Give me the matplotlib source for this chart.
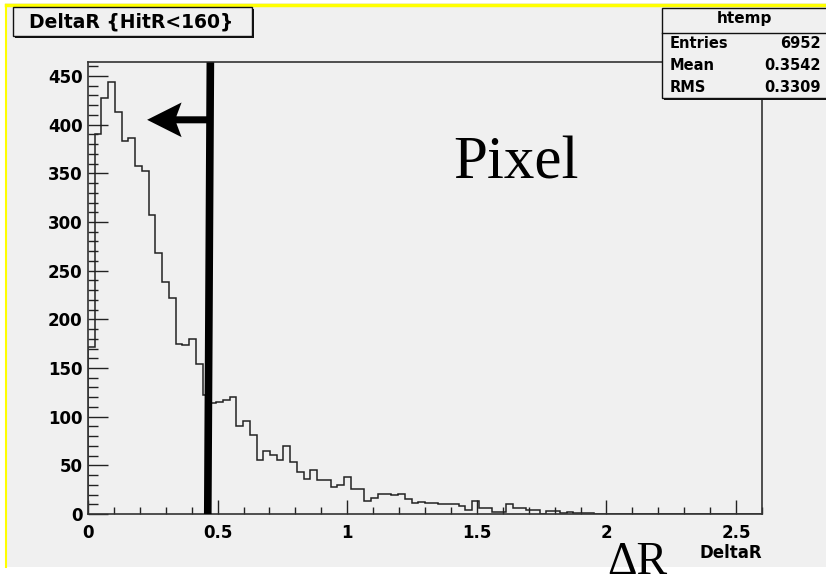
import numpy as np
import matplotlib
matplotlib.use("Agg")
import matplotlib.pyplot as plt
from matplotlib.patches import Rectangle, Polygon

# histogram of DeltaR, 100 bins from 0 to 2.6 (only the filled ones listed)
n_bins = 100
x_min = 0.0
x_max = 2.6
counts = [172, 390, 427, 444, 413, 383, 386, 358, 352, 307,
          268, 238, 222, 175, 174, 180, 154, 122, 114, 115,
          117, 120, 90, 96, 81, 55, 65, 61, 55, 70,
          53, 43, 36, 45, 35, 35, 28, 30, 38, 26,
          26, 13, 16, 21, 21, 20, 21, 15, 11, 12,
          11, 11, 10, 10, 10, 8, 4, 13, 6, 6,
          2, 2, 10, 6, 6, 4, 4, 0, 3, 3,
          1, 2, 1, 1, 1, 0]

x_ticks = [0, 0.5, 1, 1.5, 2, 2.5]
x_tick_labels = ["0", "0.5", "1", "1.5", "2", "2.5"]
y_ticks = [0, 50, 100, 150, 200, 250, 300, 350, 400, 450]

title = "DeltaR {HitR<160}"
stats_name = "htemp"
stats_rows = [("Entries", "6952"), ("Mean", "0.3542"), ("RMS", "0.3309")]

# cut line and arrow (hand drawn on the slide)
cut_top = (0.472, 464)
cut_bottom = (0.462, 0)
arrow_y = 405
arrow_tip = 0.228

W, H = 826, 584
bg = "#f0f0f0"
sans = "DejaVu Sans"

full = np.zeros(n_bins)
full[:len(counts)] = counts
edges = np.linspace(x_min, x_max, n_bins + 1)

fig = plt.figure(figsize=(W / 100, H / 100), dpi=100)
fig.patch.set_facecolor("white")


def px(x, y):
    # pixel (top-left origin) -> figure fraction
    return x / W, 1 - y / H


def px_rect(x0, y0, x1, y1, **kw):
    fx, fy = px(x0, y1)
    return Rectangle((fx, fy), (x1 - x0) / W, (y1 - y0) / H,
                     transform=fig.transFigure, **kw)


# grey pad with yellow border on top/left
fig.add_artist(px_rect(5, 3, 830, 567, facecolor=bg, edgecolor="none", zorder=0))
fig.add_artist(plt.Line2D([5.5 / W, 1], [1 - 4.5 / H] * 2, color="#ffff00", lw=2.5,
                          transform=fig.transFigure))
fig.add_artist(plt.Line2D([5.5 / W] * 2, [1 - 4.5 / H, 1 - 567 / H], color="#ffff00", lw=1.5,
                          transform=fig.transFigure))

ax = fig.add_axes([88 / W, 1 - 514 / H, (762 - 88) / W, (514 - 62) / H])
ax.set_facecolor(bg)
ax.stairs(full, edges, color="#222222", lw=1.1, baseline=0)
ax.set_xlim(x_min, x_max)
ax.set_ylim(0, 464.4)

ax.set_xticks(x_ticks)
ax.set_xticklabels(x_tick_labels)
ax.set_xticks(np.arange(0, 2.61, 0.1), minor=True)
ax.set_yticks(y_ticks)
ax.set_yticks(np.arange(0, 461, 10), minor=True)

lab_font = dict(family=sans, weight="bold", size=12)
for lab in ax.get_xticklabels() + ax.get_yticklabels():
    lab.set(**lab_font)
ax.tick_params(axis="x", which="major", direction="in", length=10.3, width=1, pad=7, color="#222222")
ax.tick_params(axis="x", which="minor", direction="in", length=4.8, width=1, color="#222222")
ax.tick_params(axis="y", which="major", direction="in", length=14.4, width=1, pad=4, color="#222222")
ax.tick_params(axis="y", which="minor", direction="in", length=7.2, width=1, color="#222222")
for s in ax.spines.values():
    s.set_color("#333333")
    s.set_linewidth(1.2)

ax.text(1.0, -0.087, "DeltaR", transform=ax.transAxes, ha="right", va="center",
        family=sans, weight="bold", size=12)

# cut line and arrow
ax.plot([cut_bottom[0], cut_top[0]], [cut_bottom[1], cut_top[1]], color="black",
        lw=5.5, solid_capstyle="butt", clip_on=False, zorder=5)
shaft = 3.6
head = 17.8
arrow = Polygon([(arrow_tip, arrow_y), (0.361, arrow_y + head), (0.341, arrow_y + shaft),
                 (0.465, arrow_y + shaft), (0.465, arrow_y - shaft), (0.341, arrow_y - shaft),
                 (0.361, arrow_y - head)], closed=True, facecolor="black", edgecolor="none", zorder=5)
ax.add_patch(arrow)

# big slide labels
fig.text(516 / W, 1 - 164 / H, "Pixel", family="Liberation Serif", size=44,
         ha="center", va="center")
fig.text(637 / W, 1 - 574 / H, "\u0394R", family="Liberation Serif", size=33,
         ha="center", va="baseline", zorder=10)

# title box with shadow
fig.add_artist(px_rect(15, 9, 254, 38, facecolor="#111111", edgecolor="none", zorder=3))
fig.add_artist(px_rect(13, 7, 252, 36, facecolor=bg, edgecolor="#111111", lw=1, zorder=4))
fx, fy = px(131, 22)
fig.text(fx, fy, title, ha="center", va="center", family=sans,
         weight="bold", size=13.5, zorder=5)

# stats box
fig.add_artist(px_rect(664, 10, 830, 100, facecolor="#111111", edgecolor="none", zorder=3))
fig.add_artist(px_rect(662, 8, 830, 98, facecolor=bg, edgecolor="#111111", lw=1, zorder=4))
fig.add_artist(plt.Line2D([662 / W, 1], [1 - 33 / H] * 2, color="#111111", lw=1,
                          transform=fig.transFigure, zorder=5))
fx, fy = px(744, 19)
fig.text(fx, fy, stats_name, ha="center", va="center", family=sans,
         weight="bold", size=11, zorder=6)
for i, (name, val) in enumerate(stats_rows):
    yy = 44 + i * 21.5
    fig.text(670 / W, 1 - yy / H, name, ha="left", va="center", family=sans,
             weight="bold", size=10.5, zorder=6)
    fig.text(821 / W, 1 - yy / H, val, ha="right", va="center", family=sans,
             weight="bold", size=10.5, zorder=6)

fig.savefig("out.png", dpi=100)
